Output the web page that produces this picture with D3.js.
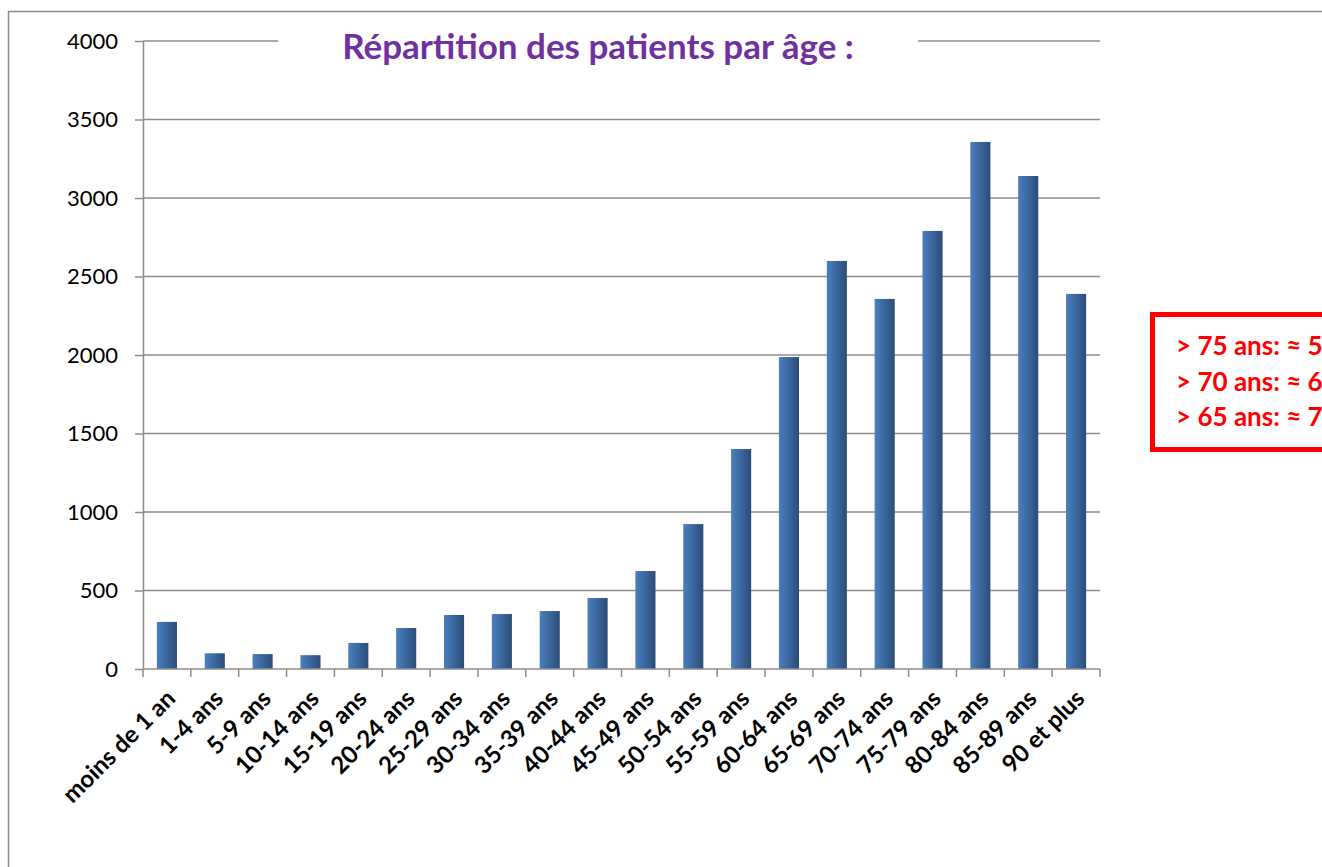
<!DOCTYPE html>
<html>
<head>
<meta charset="utf-8">
<script src="https://cdn.jsdelivr.net/npm/d3@7"></script>
<style>
  body { margin: 0; background: #fff; }
  svg { display: block; font-family: Lato, "Open Sans", sans-serif; }
</style>
</head>
<body>
<div id="chart"></div>
<script>
// data
const categories = ["moins de 1 an", "1-4 ans", "5-9 ans", "10-14 ans", "15-19 ans",
  "20-24 ans", "25-29 ans", "30-34 ans", "35-39 ans", "40-44 ans", "45-49 ans",
  "50-54 ans", "55-59 ans", "60-64 ans", "65-69 ans", "70-74 ans", "75-79 ans",
  "80-84 ans", "85-89 ans", "90 et plus"];
const patients = [300, 100, 95, 88, 166, 261, 344, 350, 369, 452, 624,
  923, 1401, 1987, 2599, 2357, 2790, 3357, 3140, 2389];
const yTicks = [0, 500, 1000, 1500, 2000, 2500, 3000, 3500, 4000];
const title = "Répartition des patients par âge :";
const noteLines = ["> 75 ans: ≈ 5", "> 70 ans: ≈ 6", "> 65 ans: ≈ 7"];

const W = 1322, H = 867;
const plot = {left: 143, right: 1100, top: 41, bottom: 669};

const svg = d3.select("#chart").append("svg")
  .attr("width", W).attr("height", H);

// gradient for the bars
const grad = svg.append("defs").append("linearGradient")
  .attr("id", "barGrad").attr("x1", 0).attr("y1", 0).attr("x2", 1).attr("y2", 0);
grad.append("stop").attr("offset", "0%").attr("stop-color", "#4a7fc1");
grad.append("stop").attr("offset", "100%").attr("stop-color", "#2b4c78");

// outer frame (only top and left visible)
svg.append("path")
  .attr("d", `M8.5,${H} L8.5,11.5 L${W},11.5`)
  .attr("fill", "none").attr("stroke", "#8c8c8c").attr("stroke-width", 1.5);

const x = d3.scaleBand().domain(categories)
  .range([plot.left, plot.right]).paddingInner(0.58).paddingOuter(0.29);
const y = d3.scaleLinear().domain([0, 4000]).range([plot.bottom, plot.top]);

// gridlines
svg.append("g").selectAll("line")
  .data(yTicks.filter(d => d > 0))
  .enter().append("line")
  .attr("x1", plot.left).attr("x2", plot.right)
  .attr("y1", d => y(d)).attr("y2", d => y(d))
  .attr("stroke", "#8c8c8c").attr("stroke-width", 1.5);

// title with white backing that cuts the top gridline
svg.append("rect")
  .attr("x", 278).attr("y", 25).attr("width", 640).attr("height", 40)
  .attr("fill", "#fff");
const titleText = svg.append("text")
  .attr("x", 598).attr("y", 59)
  .attr("text-anchor", "middle")
  .attr("font-weight", "bold").attr("font-size", 28)
  .attr("fill", "#7030a0")
  .text(title);
// fit to the width it takes in the picture
let tl = titleText.node().getComputedTextLength();
titleText.attr("font-size", 28 * 512 / tl);

// bars
svg.append("g").selectAll("rect")
  .data(categories.map((c, i) => ({c: c, v: patients[i]})))
  .enter().append("rect")
  .attr("x", d => x(d.c))
  .attr("y", d => y(d.v))
  .attr("width", x.bandwidth())
  .attr("height", d => y(0) - y(d.v))
  .attr("fill", "url(#barGrad)");

// y axis
const yAxis = svg.append("g")
  .attr("transform", `translate(${plot.left},0)`)
  .call(d3.axisLeft(y).tickValues(yTicks).tickFormat(d => d)
    .tickSize(8).tickSizeOuter(0).tickPadding(17));
yAxis.selectAll("path, line").attr("stroke", "#8c8c8c").attr("stroke-width", 1.5);
yAxis.selectAll("text").attr("font-size", 22).attr("fill", "#000")
  .attr("font-family", "Lato, sans-serif");

// x axis: ticks sit between the bars
const step = x.step();
const bounds = categories.map(c => x(c) + x.bandwidth() / 2 - step / 2);
bounds.push(plot.right);
const xg = svg.append("g");
xg.append("line")
  .attr("x1", plot.left).attr("x2", plot.right)
  .attr("y1", plot.bottom).attr("y2", plot.bottom)
  .attr("stroke", "#8c8c8c").attr("stroke-width", 1.5);
xg.selectAll(".tk").data(bounds).enter().append("line")
  .attr("class", "tk")
  .attr("x1", d => d).attr("x2", d => d)
  .attr("y1", plot.bottom).attr("y2", plot.bottom + 8)
  .attr("stroke", "#8c8c8c").attr("stroke-width", 1.5);

xg.selectAll(".lbl").data(categories).enter().append("text")
  .attr("class", "lbl")
  .attr("transform", d => `translate(${x(d) + x.bandwidth() / 2 + 4},${plot.bottom + 25}) rotate(-45)`)
  .attr("text-anchor", "end")
  .attr("dy", "0.35em")
  .attr("font-size", 24).attr("font-weight", "bold").attr("fill", "#000")
  .text(d => d);

// red note box, cut by the right edge of the picture
svg.append("rect")
  .attr("x", 1152.5).attr("y", 314.5).attr("width", 200).attr("height", 135)
  .attr("fill", "#fff").attr("stroke", "#ff0000").attr("stroke-width", 5);
svg.append("g").selectAll("text")
  .data(noteLines).enter().append("text")
  .attr("x", 1176).attr("y", (d, i) => 355 + i * 35.5)
  .attr("font-size", 26).attr("font-weight", "bold").attr("fill", "#ff0000")
  .text(d => d);
</script>
</body>
</html>
